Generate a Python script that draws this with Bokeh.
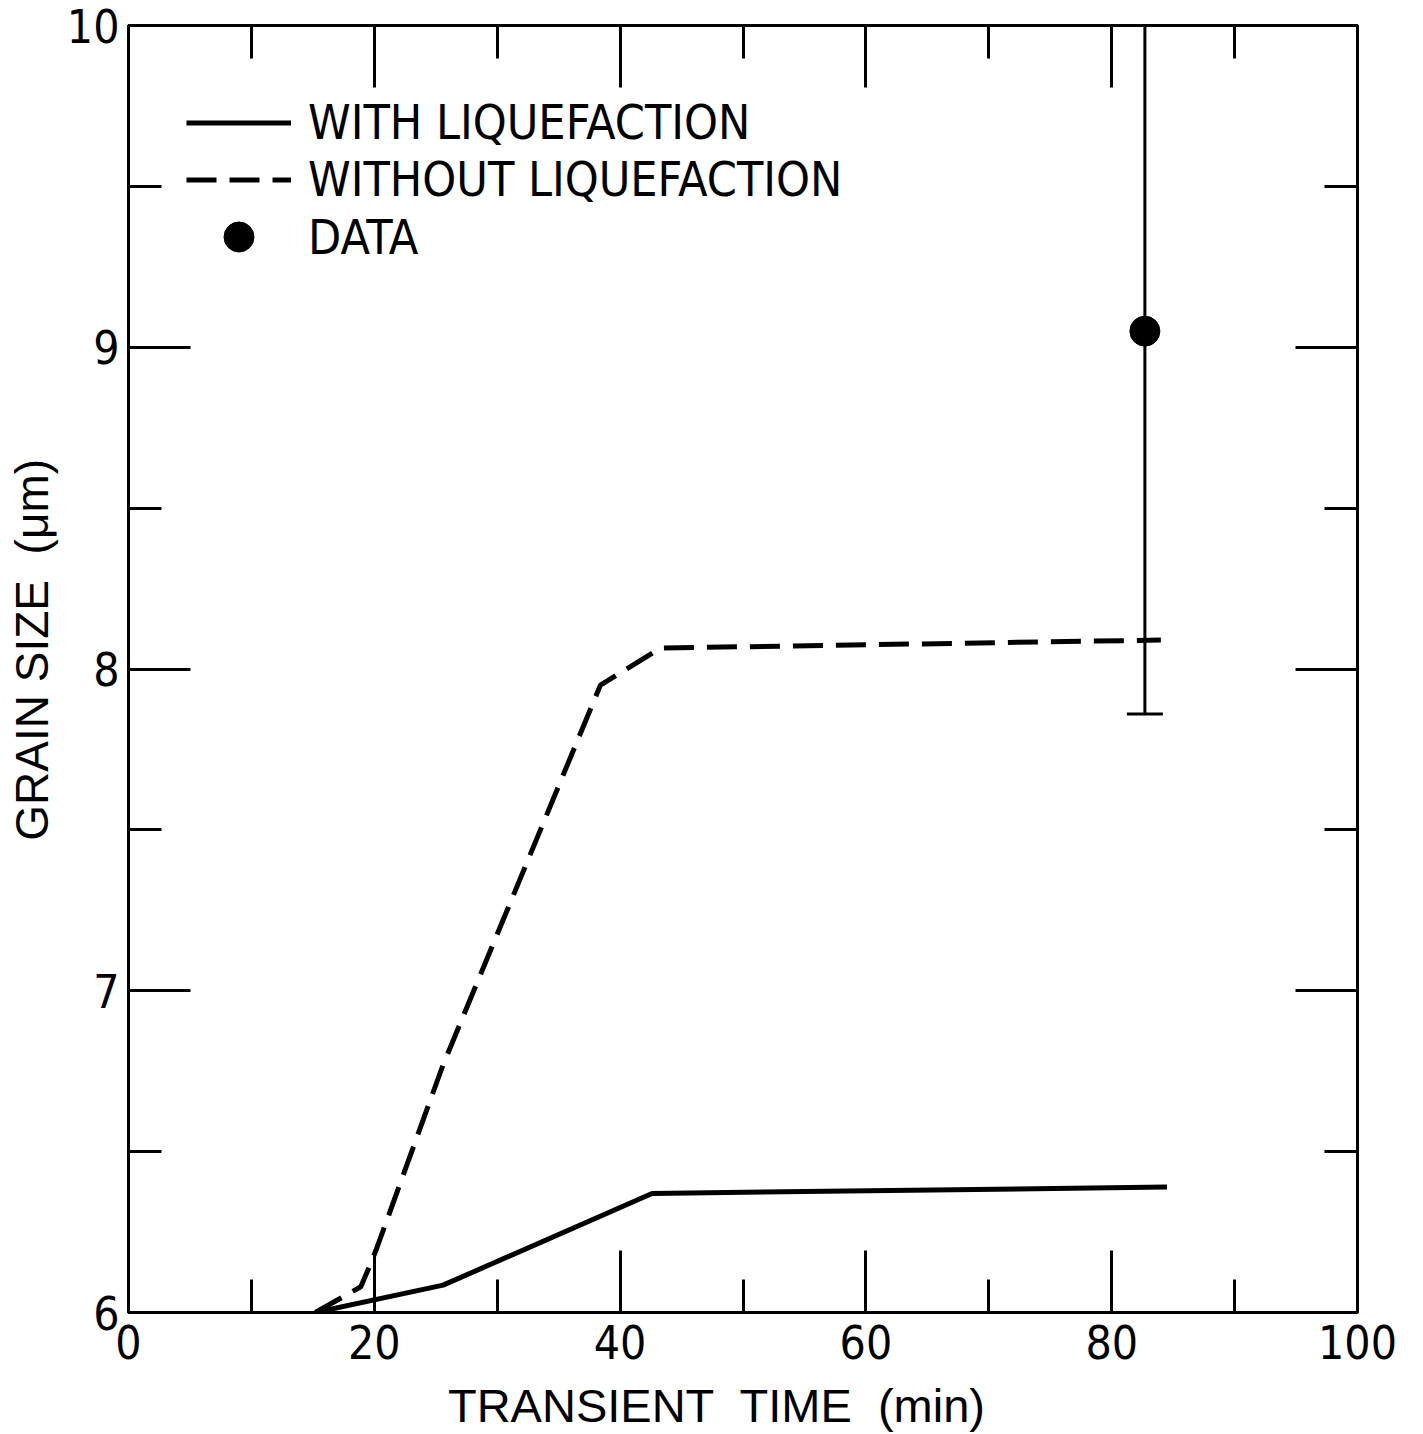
from bokeh.plotting import figure
from bokeh.models import (Range1d, FixedTicker, LinearAxis, Legend, LegendItem,
                          Whisker, ColumnDataSource, TeeHead)
from bokeh.embed import file_html
from bokeh.resources import INLINE

# ---- data ----
with_liq_x = [15.2, 25.6, 42.6, 84.5]
with_liq_y = [6.0, 6.085, 6.37, 6.39]

without_liq_x = [15.2, 18.9, 19.8, 20.2, 25.6, 38.4, 43.3, 84.0]
without_liq_y = [6.0, 6.08, 6.16, 6.2, 6.77, 7.95, 8.065, 8.09]

data_x = [82.7]
data_y = [9.05]
data_upper = [10.0]
data_lower = [7.86]

x_major = [0, 20, 40, 60, 80, 100]
x_minor = [10, 30, 50, 70, 90]
y_major = [6, 7, 8, 9, 10]
y_minor = [6.5, 7.5, 8.5, 9.5]

NB = "\u00a0"
x_title = "TRANSIENT" + NB + " TIME" + NB + " (min)" + NB * 4
y_title = NB * 3 + "GRAIN SIZE" + NB + " (μm)"

NARROW = "'Liberation Sans Narrow', 'DejaVu Sans Condensed', 'Liberation Sans', sans-serif"
SANS = "'Liberation Sans', Arial, sans-serif"

p = figure(width=1423, height=1434, output_backend="svg", toolbar_location=None,
           x_range=Range1d(0, 100), y_range=Range1d(6, 10),
           min_border_left=128, min_border_right=66, min_border_top=25,
           min_border_bottom=121, x_axis_location=None, y_axis_location=None)
p.grid.visible = False
p.outline_line_color = "black"
p.outline_line_width = 3
p.background_fill_color = "white"
p.border_fill_color = "white"


def style_axis(ax, labels=True):
    ax.axis_line_color = None
    ax.major_tick_line_width = 3
    ax.minor_tick_line_width = 3
    ax.major_tick_line_color = "black"
    ax.minor_tick_line_color = "black"
    ax.major_tick_out = 0
    ax.minor_tick_out = 0
    ax.major_tick_in = 62
    ax.minor_tick_in = 33
    ax.major_label_text_font = NARROW
    ax.major_label_text_color = "black"
    if labels:
        ax.major_label_text_font_size = "46px"
    else:
        ax.major_label_text_font_size = "0px"
        ax.major_label_text_alpha = 0


xt = FixedTicker(ticks=x_major, minor_ticks=x_minor)
yt = FixedTicker(ticks=y_major, minor_ticks=y_minor)

xb = LinearAxis(ticker=xt, axis_label=x_title)
style_axis(xb)
xb.major_label_standoff = 12
xb.axis_label_text_font = SANS
xb.axis_label_text_font_size = "47px"
xb.axis_label_text_font_style = "normal"
xb.axis_label_text_color = "black"
xb.axis_label_standoff = 17
p.add_layout(xb, "below")

xa = LinearAxis(ticker=xt)
style_axis(xa, labels=False)
p.add_layout(xa, "above")

yl = LinearAxis(ticker=yt, axis_label=y_title)
style_axis(yl)
yl.major_label_standoff = 9
yl.axis_label_text_font = SANS
yl.axis_label_text_font_size = "46px"
yl.axis_label_text_font_style = "normal"
yl.axis_label_text_color = "black"
yl.axis_label_standoff = 6
p.add_layout(yl, "left")

yr = LinearAxis(ticker=yt)
style_axis(yr, labels=False)
p.add_layout(yr, "right")

r_with = p.line(with_liq_x, with_liq_y, line_color="black", line_width=5)
r_without = p.line(without_liq_x, without_liq_y, line_color="black", line_width=5,
                   line_dash="30 13")

src = ColumnDataSource(dict(x=data_x, y=data_y, upper=data_upper, lower=data_lower))
wh = Whisker(source=src, base="x", upper="upper", lower="lower", dimension="height",
             line_color="black", line_width=3,
             upper_head=TeeHead(size=36, line_width=3, line_color="black"),
             lower_head=TeeHead(size=36, line_width=3, line_color="black"))
p.add_layout(wh)
r_data = p.scatter("x", "y", source=src, size=30, fill_color="black",
                   line_color="black")

common = dict(glyph_width=105, label_standoff=17, padding=0, margin=0,
              border_line_color=None, background_fill_alpha=0,
              label_text_font=NARROW, label_text_font_size="48px",
              label_text_color="black")

legend1 = Legend(items=[
    LegendItem(label="WITH LIQUEFACTION", renderers=[r_with]),
    LegendItem(label="WITHOUT LIQUEFACTION", renderers=[r_without]),
], location=(58, 1105), glyph_height=45, label_height=45, spacing=1, **common)
p.add_layout(legend1, "center")

legend2 = Legend(items=[
    LegendItem(label="DATA", renderers=[r_data]),
], location=(58, 1038), glyph_height=75, label_height=75, spacing=0, **common)
p.add_layout(legend2, "center")

open("out.html", "w").write(file_html(p, INLINE))
